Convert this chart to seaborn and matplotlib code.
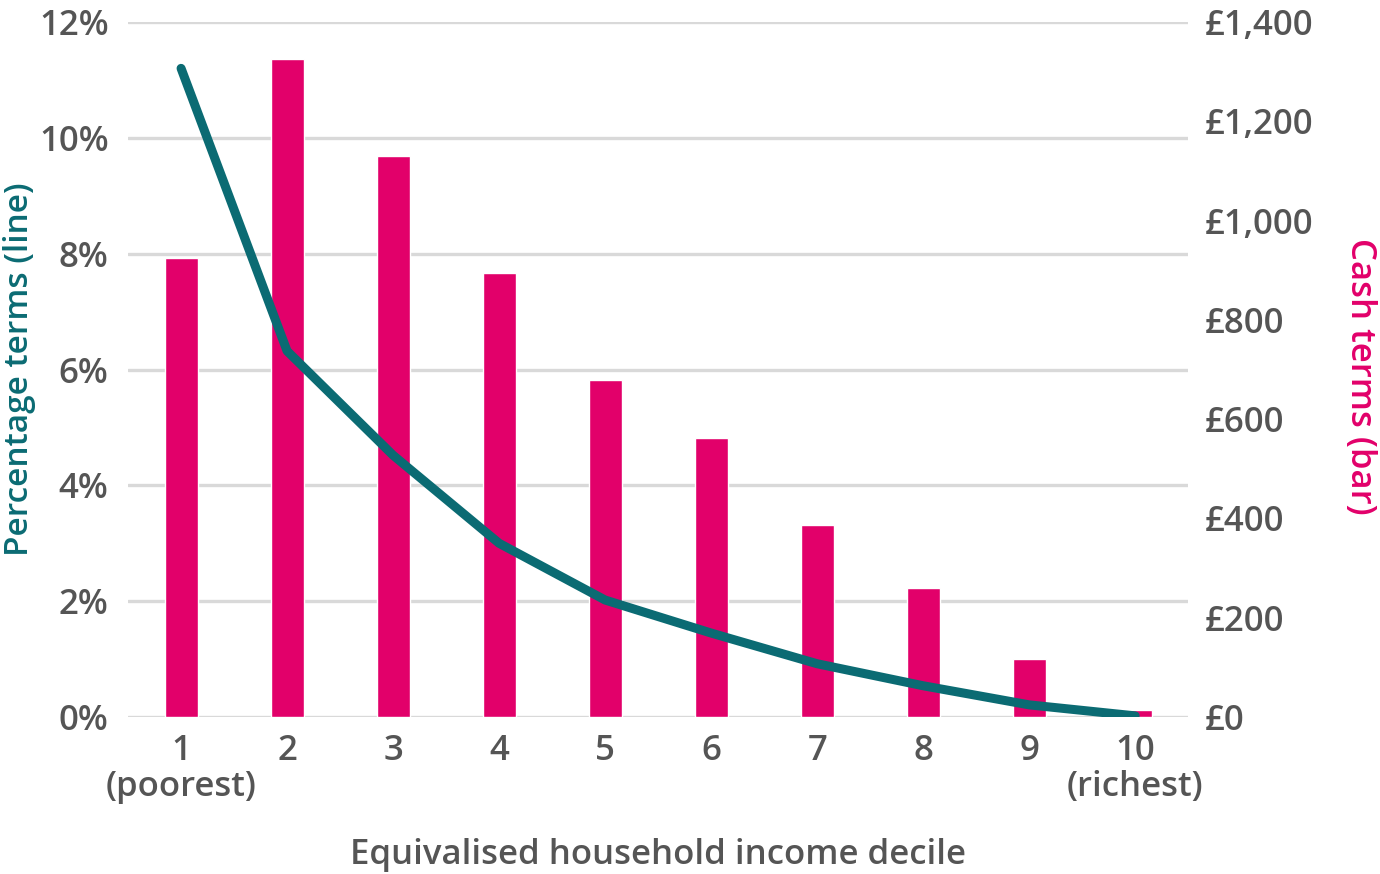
import matplotlib
matplotlib.use("Agg")
import matplotlib.pyplot as plt
import seaborn as sns
import pandas as pd
import numpy as np

deciles = [1, 2, 3, 4, 5, 6, 7, 8, 9, 10]
tick_labels = ["1\n(poorest)", "2", "3", "4", "5", "6", "7", "8", "9", "10\n(richest)"]
cash_terms = [925, 1325, 1130, 895, 678, 562, 387, 260, 117, 14]
pct_terms = [11.2, 6.32, 4.52, 3.0, 2.02, 1.45, 0.92, 0.54, 0.21, 0.02]
left_ticks = [0, 2, 4, 6, 8, 10, 12]
right_ticks = [0, 200, 400, 600, 800, 1000, 1200, 1400]

PINK = "#e2006a"
TEAL = "#0b6b73"
GREY = "#555555"
FS = 25

sns.set_theme(style="white")
plt.rcParams['font.family'] = ['Open Sans', 'DejaVu Sans']

df = pd.DataFrame({"decile": deciles, "cash": cash_terms, "pct": pct_terms})

fig = plt.figure(figsize=(13.8, 8.74), dpi=100)
rect = [0.0928, 0.1796, 0.861 - 0.0928, 0.9748 - 0.1796]
ax = fig.add_axes(rect)          # left axis + grid (back)
ax2 = ax.twinx()                 # bars + right axis (middle)
ax3 = ax.twinx()                 # line (front)

# grid from the left (percentage) axis
ax.set_ylim(0, 12)
ax.set_yticks(left_ticks)
ax.set_yticklabels([f"{v}%" for v in left_ticks])
ax.yaxis.grid(True, color="#d9d9d9", linewidth=2.4)
ax.xaxis.grid(False)
ax.set_xlim(0.5, 10.5)
ax.set_xticks(deciles)
ax.set_xticklabels(tick_labels)

# bars on right axis
ax2.bar(df["decile"], df["cash"], width=0.31, color=PINK)
ax2.set_ylim(0, 1400)
ax2.set_yticks(right_ticks)
ax2.set_yticklabels([f"£{v:,}" for v in right_ticks])
ax2.grid(False)

# line on its own front axis sharing the percentage scale
sns.lineplot(data=df, x="decile", y="pct", ax=ax3, color=TEAL, linewidth=6.5,
             solid_capstyle="round", solid_joinstyle="round")
ax3.set_ylim(0, 12)
ax3.set_xlim(0.5, 10.5)
ax3.set_yticks([])
ax3.set_ylabel("")
ax3.set_xlabel("")
ax3.grid(False)
ax3.patch.set_visible(False)

for a in (ax, ax2, ax3):
    for s in a.spines.values():
        s.set_visible(False)
    a.tick_params(axis="both", length=0, labelsize=FS, labelcolor=GREY)
    for lbl in a.get_yticklabels() + a.get_xticklabels():
        lbl.set_fontweight("semibold")

ax.tick_params(axis="y", pad=14)
ax2.tick_params(axis="y", pad=12)
ax.tick_params(axis="x", pad=12)
for lbl in ax.get_xticklabels():
    lbl.set_linespacing(1.1)

ax.set_xlabel("Equivalised household income decile", fontsize=FS, color=GREY,
              fontweight="semibold", labelpad=24)
ax.set_ylabel("Percentage terms (line)", fontsize=24, color=TEAL,
              fontweight="semibold", va="center")
ax.yaxis.set_label_coords(-0.102, 0.5)
ax2.set_ylabel("Cash terms (bar)", fontsize=FS, color=PINK, fontweight="semibold",
               rotation=270, va="center")
ax2.yaxis.set_label_coords(1.162, 0.49)

fig.savefig("out.png", dpi=100)
